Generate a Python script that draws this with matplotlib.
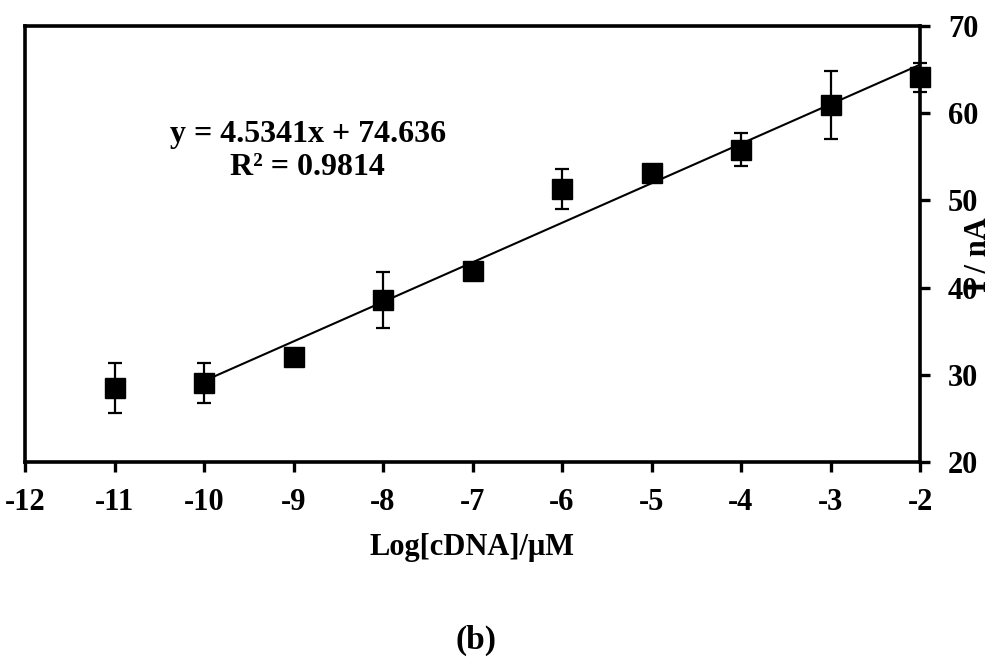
import numpy as np
import matplotlib
matplotlib.use("Agg")
import matplotlib.pyplot as plt

plt.rcParams["font.family"] = ["Liberation Serif", "DejaVu Serif"]
plt.rcParams["font.weight"] = "bold"
plt.rcParams["axes.unicode_minus"] = False

# ─── data ─────────────────────────────────────────────────────────────────────
log_c = [-11, -10, -9, -8, -7, -6, -5, -4, -3, -2]
current = [28.5, 29.1, 32.0, 38.6, 41.9, 51.3, 53.2, 55.8, 61.0, 64.1]
err = [2.9, 2.3, 0.6, 3.2, 0.5, 2.3, 0.4, 1.9, 3.9, 1.7]

slope, intercept = 4.5341, 74.636
fit_x = [-10, -2]

x_ticks = list(range(-12, -1))
y_ticks = [20, 30, 40, 50, 60, 70]

# ─── figure ───────────────────────────────────────────────────────────────────
fig = plt.figure(figsize=(10, 6.68), dpi=100)
ax = fig.add_axes([0.025, 0.3084, 0.895, 0.6526])

fx = np.array(fit_x, dtype=float)
ax.plot(fx, slope * fx + intercept, color="black", lw=1.5, zorder=2)
eb = ax.errorbar(log_c, current, yerr=err, fmt="s", color="black", ms=15,
                 ecolor="black", elinewidth=1.6, capsize=5, capthick=1.6, zorder=3)
for art in eb.get_children():
    art.set_clip_on(False)

ax.set_xlim(-12, -2)
ax.set_ylim(20, 70)
ax.set_xticks(x_ticks)
ax.set_yticks(y_ticks)

for s in ax.spines.values():
    s.set_linewidth(2.6)

ax.yaxis.tick_right()
ax.tick_params(axis="x", direction="out", length=7, width=2.4, labelsize=22, pad=12)
ax.tick_params(axis="y", direction="out", length=7, width=2.4, labelsize=22, pad=13)
for lab in ax.get_xticklabels() + ax.get_yticklabels():
    lab.set_fontweight("bold")

ax.text(-8.84, 55.7, f"y = {slope}x + {intercept}\nR² = 0.9814", ha="center", va="center",
        multialignment="center", fontsize=23, fontweight="bold", linespacing=1.2)

fig.text(0.472, 1 - 548 / 668, "Log[cDNA]/μM", ha="center", va="center",
         fontsize=22, fontweight="bold")
fig.text(0.978, 1 - 255 / 668, "I / nA", ha="center", va="center", rotation=90,
         fontsize=22, fontweight="bold")
fig.text(0.476, 1 - 640 / 668, "(b)", ha="center", va="center",
         fontsize=24, fontweight="bold")

plt.savefig("out.png", dpi=100)
plt.close()
